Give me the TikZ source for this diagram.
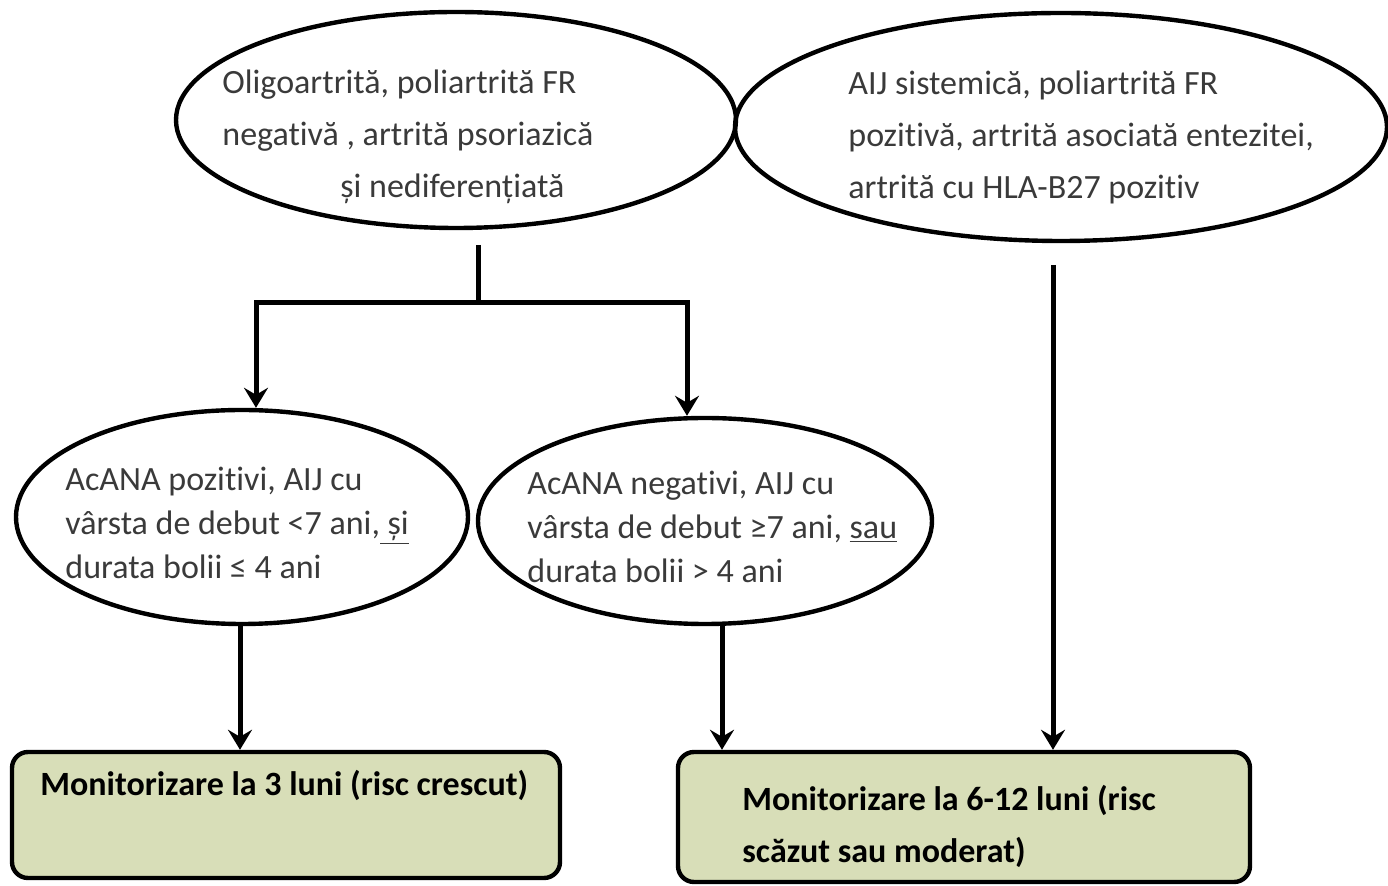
\documentclass[tikz,border=0pt]{standalone}
\usepackage{fontspec}
\setmainfont{Carlito}[Ligatures=NoCommon]
\usetikzlibrary{positioning,arrows.meta,shapes.geometric,calc}
\definecolor{BoxGreen}{RGB}{216,222,184}
\definecolor{TextGrey}{RGB}{58,58,58}

\begin{document}
\begin{tikzpicture}[x=0.5pt,y=-0.5pt,font=\fontsize{17}{26}\selectfont,
  oval/.style={draw,ellipse,line width=2.2pt,inner sep=0pt},
  txt/.style={anchor=west,align=left,text=TextGrey,inner sep=0pt},
  outcome/.style={draw,rectangle,rounded corners=8pt,line width=2.2pt,fill=BoxGreen,inner sep=0pt},
  flow/.style={line width=2.5pt,-{Stealth[length=10pt,width=12pt,inset=3.5pt]}}]
\useasboundingbox (0,0) rectangle (1388,886);
% diagnostic groups
\node[oval,minimum width=280pt,minimum height=108pt] (oligo) at (456,120) {};
\node[txt] (oligotxt) at (222,137) {Oligoartrită, poliartrită FR\\negativă , artrită psoriazică\\\hspace*{59pt}și nediferențiată};
\node[oval,minimum width=326pt,minimum height=114pt] (sys) at (1061,127) {};
\node[txt] (systxt) at (848,137) {AIJ sistemică, poliartrită FR\\pozitivă, artrită asociată entezitei,\\artrită cu HLA-B27 pozitiv};
% ANA split
\node[oval,minimum width=226pt,minimum height=107pt] (pos) at (242,517) {};
\node[txt,font=\fontsize{17}{22}\selectfont] (postxt) at (65,523) {AcANA pozitivi, AIJ cu\\vârsta de debut <7 ani,\underline{ și}\\durata bolii ≤ 4 ani};
\node[oval,minimum width=227pt,minimum height=103pt] (neg) at (705,521) {};
\node[txt,font=\fontsize{17}{22}\selectfont] (negtxt) at (527,527) {AcANA negativi, AIJ cu\\vârsta de debut ≥7 ani, \underline{sau}\\durata bolii > 4 ani};
% monitoring
\node[outcome,minimum width=274pt,minimum height=63pt] (early) at (286,815) {};
\node[txt,text=black,font=\bfseries\fontsize{17}{26}\selectfont] (earlytxt) at (40,785) {Monitorizare la 3 luni (risc crescut)};
\node[outcome,minimum width=286pt,minimum height=65pt] (late) at (964,817) {};
\node[txt,text=black,font=\bfseries\fontsize{17}{26}\selectfont] (latetxt) at (742,826) {Monitorizare la 6-12 luni (risc\\scăzut sau moderat)};
% connectors
\coordinate (forktop) at (478,245);
\coordinate (fork) at (478,303);
\coordinate (sysdown) at (1053,265);
\coordinate (posout) at ($(pos.south)+(-2,0)$);
\coordinate (negout) at ($(neg.south)+(17,0)$);
\draw[line width=2.5pt] (forktop) -- (fork);
\draw[flow] (fork) -| ($(pos.north)+(14,0)$);
\draw[flow] (fork) -| ($(neg.north)+(-18,0)$);
\draw[flow] (posout) -- (posout |- early.north);
\draw[flow] (negout) -- (negout |- late.north);
\draw[flow] (sysdown) -- (sysdown |- late.north);
\end{tikzpicture}
\end{document}
